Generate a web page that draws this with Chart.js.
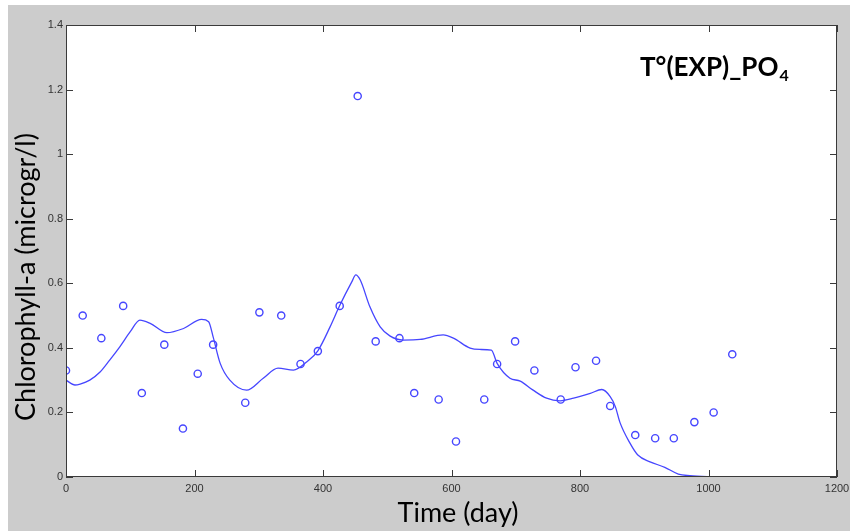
<!DOCTYPE html>
<html>
<head>
<meta charset="utf-8">
<script src="https://cdn.jsdelivr.net/npm/chart.js@4"></script>
<style>
  html, body { margin: 0; padding: 0; background: #ffffff; }
  #wrap { width: 850px; height: 531px; }
</style>
</head>
<body>
<div id="wrap"><canvas id="chart" width="850" height="531"></canvas></div>
<script>
// measured chlorophyll-a samples
const obsDays = [0, 26, 55, 89, 118, 153, 182, 205, 229, 279, 301, 335, 365, 392, 426, 454, 482, 519,
  542, 580, 607, 651, 671, 699, 729, 770, 793, 825, 847, 886, 917, 946, 978, 1008, 1037];
const obsValues = [0.33, 0.50, 0.43, 0.53, 0.26, 0.41, 0.15, 0.32, 0.41, 0.23, 0.51, 0.50, 0.35, 0.39, 0.53, 1.18, 0.42, 0.43,
  0.26, 0.24, 0.11, 0.24, 0.35, 0.42, 0.33, 0.24, 0.34, 0.36, 0.22, 0.13, 0.12, 0.12, 0.17, 0.20, 0.38];

// simulated curve
const modelDays = [0, 14, 22, 37, 53, 68, 84, 100, 115, 131, 157, 183, 211, 222, 229, 240, 255, 281, 307, 330, 354,
  375, 392, 411, 426, 445, 451, 458, 473, 489, 504, 525, 551, 587, 603, 629, 644, 662, 671, 691, 707, 727, 748, 769,
  790, 816, 834, 847, 855, 862, 878, 890, 909, 932, 953, 971, 1000, 1037];
const modelValues = [0.30, 0.285, 0.288, 0.30, 0.325, 0.362, 0.404, 0.45, 0.486, 0.476, 0.447, 0.46, 0.488, 0.481, 0.434, 0.352, 0.30, 0.269, 0.306, 0.337, 0.331,
  0.357, 0.391, 0.465, 0.531, 0.605, 0.626, 0.61, 0.527, 0.465, 0.437, 0.424, 0.426, 0.44, 0.43, 0.399, 0.395, 0.393, 0.352, 0.306, 0.297, 0.269, 0.244, 0.236,
  0.244, 0.259, 0.271, 0.249, 0.218, 0.17, 0.104, 0.068, 0.047, 0.03, 0.009, 0.004, 0.001, 0.0];

const xTicks = [0, 200, 400, 600, 800, 1000, 1200];
const yTicks = [0, 0.2, 0.4, 0.6, 0.8, 1, 1.2, 1.4];

const blue = '#4646ff';
const axisColor = '#3a3a3a';

// figure background, white axes box, inward ticks and text
const decor = {
  id: 'decor',
  beforeDraw(chart) {
    const { ctx, chartArea: a } = chart;
    ctx.save();
    ctx.fillStyle = '#ffffff';
    ctx.fillRect(0, 0, chart.width, chart.height);
    ctx.fillStyle = '#cccccc';
    ctx.fillRect(8, 5, chart.width - 8, chart.height - 5);
    ctx.fillStyle = '#ffffff';
    ctx.fillRect(a.left, a.top, a.right - a.left, a.bottom - a.top);
    ctx.restore();
  },
  afterDraw(chart) {
    const { ctx, chartArea: a, scales } = chart;
    const len = 7;
    ctx.save();
    ctx.strokeStyle = axisColor;
    ctx.lineWidth = 1;
    ctx.strokeRect(a.left + 0.5, a.top + 0.5, a.right - a.left - 1, a.bottom - a.top - 1);
    ctx.beginPath();
    xTicks.forEach(v => {
      const x = Math.round(scales.x.getPixelForValue(v)) + 0.5;
      ctx.moveTo(x, a.bottom); ctx.lineTo(x, a.bottom - len);
      ctx.moveTo(x, a.top); ctx.lineTo(x, a.top + len);
    });
    yTicks.forEach(v => {
      const y = Math.round(scales.y.getPixelForValue(v)) + 0.5;
      ctx.moveTo(a.left, y); ctx.lineTo(a.left + len, y);
      ctx.moveTo(a.right, y); ctx.lineTo(a.right - len, y);
    });
    ctx.stroke();

    // axis titles
    ctx.fillStyle = '#000000';
    ctx.textAlign = 'center';
    ctx.textBaseline = 'alphabetic';
    ctx.font = '27px Lato';
    ctx.fillText('Time (day)', 458, 522);
    ctx.save();
    ctx.translate(35, 277);
    ctx.rotate(-Math.PI / 2);
    ctx.font = '27px Lato';
    ctx.fillText('Chlorophyll-a (microgr/l)', 0, 0);
    ctx.restore();

    // run label with subscript
    ctx.textAlign = 'left';
    ctx.font = 'bold 26px Lato';
    const main = 'T°(EXP)_PO';
    ctx.fillText(main, 640, 76);
    const w = ctx.measureText(main).width;
    ctx.font = 'bold 16px Lato';
    ctx.fillText('4', 640 + w + 1, 81);
    ctx.restore();
  }
};

new Chart(document.getElementById('chart'), {
  type: 'scatter',
  data: {
    datasets: [
      {
        label: 'model',
        data: modelDays.map((d, i) => ({ x: d, y: modelValues[i] })),
        showLine: true,
        borderColor: blue,
        borderWidth: 1.3,
        pointRadius: 0,
        cubicInterpolationMode: 'monotone',
        fill: false
      },
      {
        label: 'observed',
        data: obsDays.map((d, i) => ({ x: d, y: obsValues[i] })),
        showLine: false,
        pointStyle: 'circle',
        pointRadius: 3.6,
        pointBorderWidth: 1.4,
        pointBorderColor: blue,
        pointBackgroundColor: 'rgba(0,0,0,0)'
      }
    ]
  },
  options: {
    responsive: false,
    animation: false,
    layout: { padding: { left: 8, top: 25, right: 13, bottom: 0 } },
    plugins: {
      legend: { display: false },
      tooltip: { enabled: false }
    },
    scales: {
      x: {
        type: 'linear',
        min: 0,
        max: 1200,
        afterFit(scale) {
          scale.height = 54;
          // let the last tick label hang into the right margin
          scale.paddingLeft = 0;
          scale.paddingRight = 0;
        },
        afterBuildTicks(scale) { scale.ticks = xTicks.map(v => ({ value: v })); },
        grid: { display: true, drawOnChartArea: false, drawTicks: false },
        border: { display: false },
        ticks: {
          padding: 5,
          color: '#333333',
          font: { family: 'Liberation Sans', size: 11 },
          maxRotation: 0,
          callback: v => String(v)
        }
      },
      y: {
        type: 'linear',
        min: 0,
        max: 1.4,
        afterFit(scale) {
          scale.width = 58;
          scale.paddingTop = 0;
          scale.paddingBottom = 0;
        },
        afterBuildTicks(scale) { scale.ticks = yTicks.map(v => ({ value: v })); },
        grid: { display: true, drawOnChartArea: false, drawTicks: false },
        border: { display: false },
        ticks: {
          padding: 3,
          color: '#333333',
          font: { family: 'Liberation Sans', size: 11 },
          callback: v => String(Number(v.toFixed(1)))
        }
      }
    }
  },
  plugins: [decor]
});
</script>
</body>
</html>
